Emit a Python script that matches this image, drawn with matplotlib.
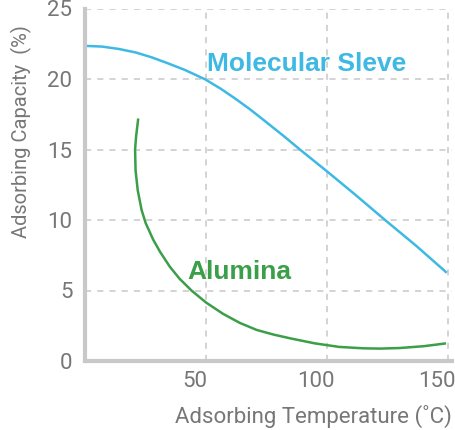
import numpy as np
import matplotlib
matplotlib.use('Agg')
import matplotlib.pyplot as plt
from matplotlib.transforms import ScaledTranslation

# Molecular sieve curve
sieve_t = [0, 7, 14, 21, 27.5, 34, 41.3, 49.6, 56, 62, 68.2, 75, 82, 88.8, 100, 112, 124, 137, 149.5]
sieve_cap = [22.35, 22.3, 22.13, 21.88, 21.54, 21.13, 20.64, 19.98, 19.32, 18.62, 17.85,
             16.93, 15.97, 15.0, 13.45, 11.75, 10.0, 8.15, 6.26]

# Alumina curve (turns back on itself near 21 C, so kept as point pairs)
alum_t = [22.0, 21.1, 20.7, 20.9, 21.8, 23.4, 25.1, 28.2, 31, 35, 39, 44, 50,
          57, 64, 71, 78, 85, 95, 105, 115, 122, 130, 140, 149.2]
alum_cap = [17.2, 15.9, 15.0, 13.5, 12.1, 10.7, 9.77, 8.6, 7.75, 6.7, 5.85, 5.0, 4.15,
            3.35, 2.7, 2.2, 1.87, 1.6, 1.25, 1.0, 0.9, 0.88, 0.92, 1.05, 1.25]

x_ticks = [50, 100, 150]
y_ticks = [0, 5, 10, 15, 20, 25]

blue = '#3db9e4'
green = '#3b9e48'
gris = '#c8c8c8'
texto = '#777777'

plt.rcParams['font.family'] = ['Roboto', 'DejaVu Sans']

fig = plt.figure(figsize=(4.56, 4.30), dpi=100)
ax = fig.add_axes([85/456, 69/430, 366.6/456, 352.5/430])

ax.plot(sieve_t, sieve_cap, color=blue, lw=1.8, solid_capstyle='butt', zorder=3)
ax.plot(alum_t, alum_cap, color=green, lw=1.8, solid_capstyle='butt', solid_joinstyle='round', zorder=3)

ax.text(50.3, 20.55, 'Molecular Sleve', color=blue, fontsize=19, fontweight='bold',
        family=['Liberation Sans', 'DejaVu Sans'])
ax.text(42.5, 5.85, 'Alumina', color=green, fontsize=19, fontweight='bold',
        family=['Liberation Sans', 'DejaVu Sans'])

ax.set_xlim(0, 151.5)
ax.set_ylim(0, 25)
ax.set_xticks(x_ticks)
ax.set_yticks(y_ticks)
ax.tick_params(length=0, labelsize=16, labelcolor=texto)
ax.tick_params(axis='y', pad=9)
ax.tick_params(axis='x', pad=7)
# las etiquetas del eje x van un poco a la izquierda de la grilla
desplazo = ScaledTranslation(-11/100, 0, fig.dpi_scale_trans)
for lab in ax.get_xticklabels():
    lab.set_transform(lab.get_transform() + desplazo)

ax.grid(True, color=gris, ls=(0, (4, 4)), lw=1.1)
for s in ['top', 'right']:
    ax.spines[s].set_visible(False)
for s in ['left', 'bottom']:
    ax.spines[s].set_color(gris)
    ax.spines[s].set_linewidth(3)
    ax.spines[s].set_zorder(4)

ax.set_xlabel('Adsorbing Temperature (˚C)', fontsize=16, color=texto)
ax.set_ylabel('Adsorbing Capacity  (%)', fontsize=14.5, color=texto)
ax.xaxis.set_label_coords(228/366.6, -44/352.5)
ax.yaxis.set_label_coords(-53/366.6, 0.652)

fig.savefig('out.png', dpi=100)
